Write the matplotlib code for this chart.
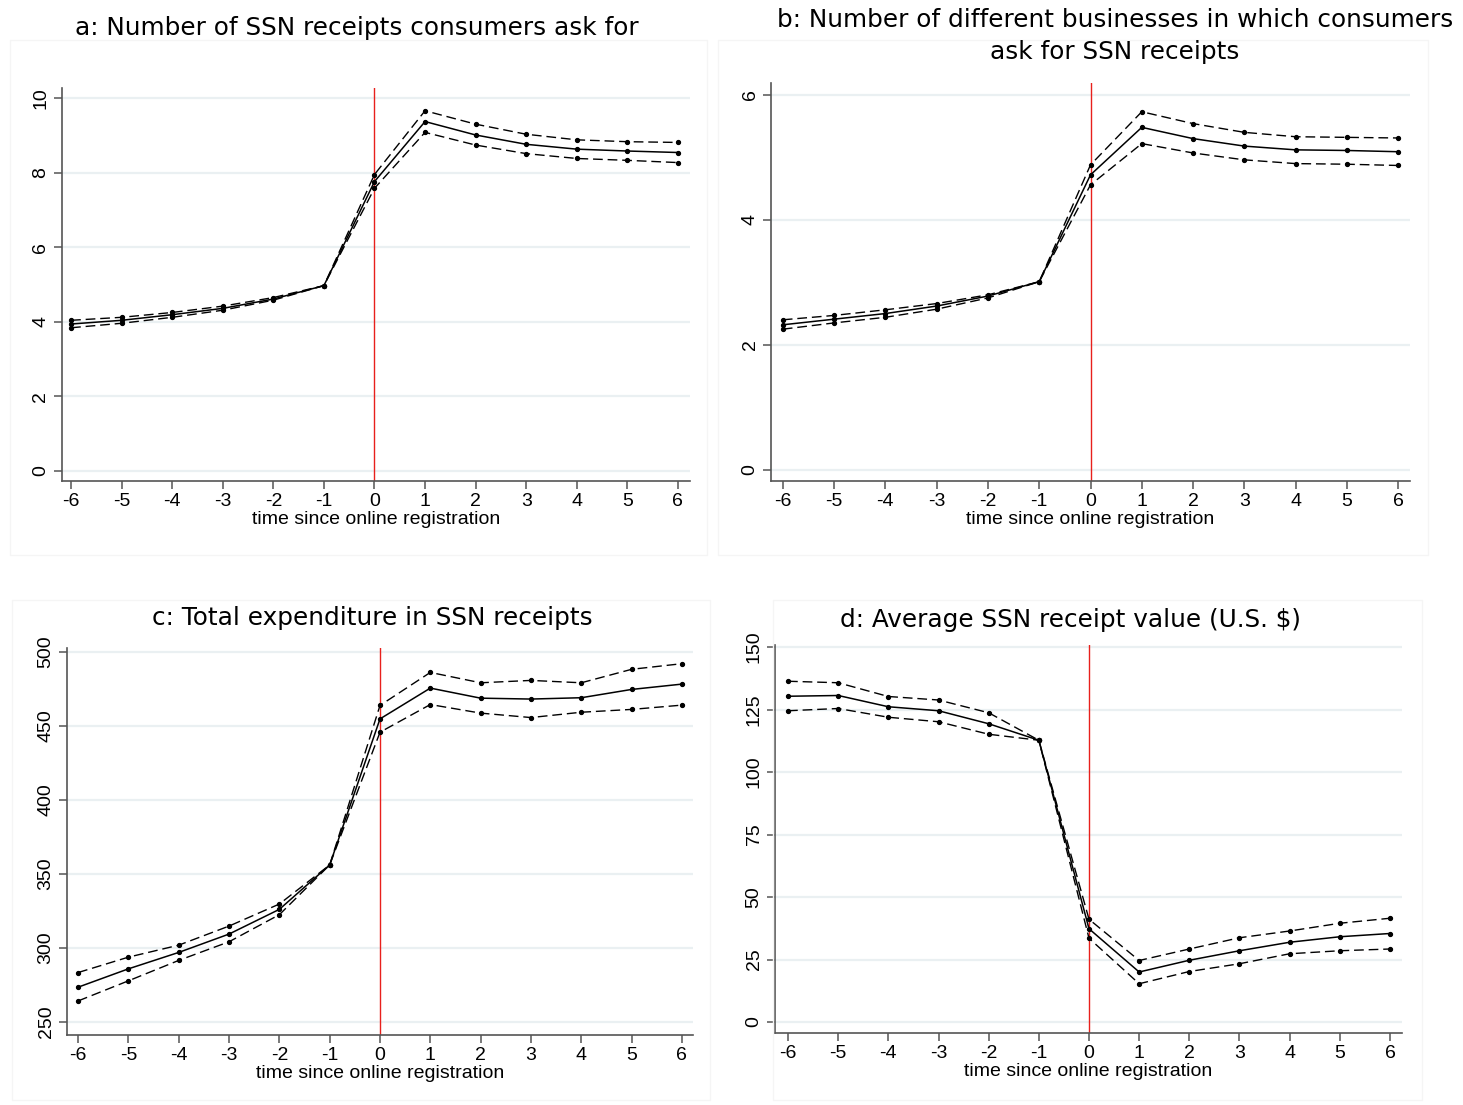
import matplotlib
matplotlib.use("Agg")
import matplotlib.pyplot as plt
from matplotlib.patches import Rectangle

# event time
periods = [-6, -5, -4, -3, -2, -1, 0, 1, 2, 3, 4, 5, 6]

# a: number of SSN receipts
a_est = [3.94, 4.04, 4.19, 4.36, 4.61, 4.97, 7.76, 9.37, 9.01, 8.76, 8.63, 8.58, 8.54]
a_hi = [4.04, 4.12, 4.25, 4.42, 4.65, 4.97, 7.95, 9.66, 9.30, 9.03, 8.88, 8.83, 8.81]
a_lo = [3.84, 3.96, 4.12, 4.31, 4.58, 4.97, 7.58, 9.08, 8.74, 8.51, 8.38, 8.33, 8.27]

# b: number of different businesses
b_est = [2.32, 2.41, 2.50, 2.62, 2.78, 3.01, 4.72, 5.48, 5.30, 5.18, 5.12, 5.11, 5.09]
b_hi = [2.40, 2.47, 2.56, 2.66, 2.80, 3.01, 4.88, 5.73, 5.54, 5.40, 5.33, 5.32, 5.31]
b_lo = [2.25, 2.35, 2.44, 2.57, 2.75, 3.01, 4.56, 5.22, 5.07, 4.96, 4.90, 4.89, 4.87]

# c: total expenditure
c_est = [273.5, 285.9, 297.0, 309.4, 326.1, 356.1, 454.8, 475.6, 468.8, 468.2, 469.1, 474.7, 478.3]
c_hi = [283.4, 293.8, 301.9, 314.8, 329.7, 356.1, 463.9, 486.2, 479.2, 480.8, 479.2, 488.3, 492.1]
c_lo = [264.2, 277.8, 291.6, 304.2, 322.5, 356.1, 445.8, 464.5, 458.7, 455.7, 459.3, 461.2, 464.1]

# d: average receipt value
d_est = [130.3, 130.6, 126.1, 124.5, 119.3, 112.7, 37.3, 20.0, 24.7, 28.5, 31.9, 34.1, 35.4]
d_hi = [136.3, 135.7, 130.2, 128.8, 123.7, 112.7, 41.1, 24.6, 29.2, 33.7, 36.4, 39.5, 41.5]
d_lo = [124.5, 125.4, 121.9, 120.1, 115.1, 112.7, 33.5, 15.3, 20.2, 23.3, 27.3, 28.5, 29.2]

titles = [
    "a: Number of SSN receipts consumers ask for",
    "b: Number of different businesses in which consumers\nask for SSN receipts",
    "c: Total expenditure in SSN receipts",
    "d: Average SSN receipt value (U.S. $)",
]
yticks_list = [
    [0, 2, 4, 6, 8, 10],
    [0, 2, 4, 6],
    [250, 300, 350, 400, 450, 500],
    [0, 25, 50, 75, 100, 125, 150],
]
xlabel = "time since online registration"

W, H = 1463, 1105
TICK_FONT = ["Liberation Sans Narrow", "Liberation Sans", "DejaVu Sans"]
TITLE_FONT = ["DejaVu Sans"]
TITLE_SIZE = 17.8


def px_axes(fig, left, top, right, bottom):
    return fig.add_axes([left / W, 1 - bottom / H, (right - left) / W, (bottom - top) / H])


def draw_panel(ax, est, hi, lo, yticks, ylim, xlim):
    ax.set_xlim(*xlim)
    ax.set_ylim(*ylim)
    for y in yticks:
        ax.axhline(y, color="#eaf0f2", lw=1.6, zorder=0)
    ax.axvline(0, color="#e8201c", lw=1.0, zorder=1)
    dash = dict(dashes=(7, 3.5))
    ax.plot(periods, hi, color="black", lw=1.0, marker="o", ms=2.8, zorder=3, **dash)
    ax.plot(periods, est, color="black", lw=1.1, marker="o", ms=2.8, zorder=3)
    ax.plot(periods, lo, color="black", lw=1.0, marker="o", ms=2.8, zorder=3, **dash)

    ax.set_xticks(periods)
    ax.set_yticks(yticks)
    ax.set_xticklabels([str(p) for p in periods], family=TICK_FONT, fontsize=14)
    ax.set_yticklabels([str(t) for t in yticks], family=TICK_FONT, fontsize=14,
                       rotation=90, va="center")
    ax.set_xlabel(xlabel, family=TICK_FONT, fontsize=14, labelpad=0)
    for side in ("top", "right"):
        ax.spines[side].set_visible(False)
    for side in ("left", "bottom"):
        ax.spines[side].set_color("#555555")
        ax.spines[side].set_linewidth(1.2)
    ax.tick_params(direction="out", length=6, width=1.1, color="#555555", pad=3)
    ax.set_facecolor("white")


fig = plt.figure(figsize=(W / 100, H / 100), dpi=100)
fig.patch.set_facecolor("white")

# faint panel borders
for (l, t, r, b) in [(10, 40, 707, 555), (718, 40, 1428, 555), (12, 600, 710, 1100), (773, 600, 1422, 1100)]:
    fig.patches.append(Rectangle((l / W, 1 - b / H), (r - l) / W, (b - t) / H,
                                 transform=fig.transFigure, fill=False,
                                 edgecolor="#f5f5f5", lw=1.0))

ax_a = px_axes(fig, 62, 88, 690, 481)
draw_panel(ax_a, a_est, a_hi, a_lo, yticks_list[0], (-0.27, 10.27), (-6.18, 6.24))
ax_b = px_axes(fig, 771, 83, 1410, 481)
draw_panel(ax_b, b_est, b_hi, b_lo, yticks_list[1], (-0.18, 6.19), (-6.23, 6.23))
ax_c = px_axes(fig, 67, 648, 693, 1035)
draw_panel(ax_c, c_est, c_hi, c_lo, yticks_list[2], (241.2, 502.7), (-6.22, 6.22))
ax_d = px_axes(fig, 775, 645, 1402, 1033)
draw_panel(ax_d, d_est, d_hi, d_lo, yticks_list[3], (-4.4, 150.8), (-6.26, 6.24))

fig.text(357 / W, 1 - 28 / H, titles[0], ha="center", va="center", fontsize=TITLE_SIZE, family=TITLE_FONT)
fig.text(1115 / W, 1 - 36 / H, titles[1], ha="center", va="center", fontsize=TITLE_SIZE,
         family=TITLE_FONT, linespacing=1.4)
fig.text(372 / W, 1 - 618 / H, titles[2], ha="center", va="center", fontsize=TITLE_SIZE, family=TITLE_FONT)
fig.text(1071 / W, 1 - 620 / H, titles[3], ha="center", va="center", fontsize=TITLE_SIZE, family=TITLE_FONT)

fig.savefig("out.png", dpi=100, facecolor="white")
